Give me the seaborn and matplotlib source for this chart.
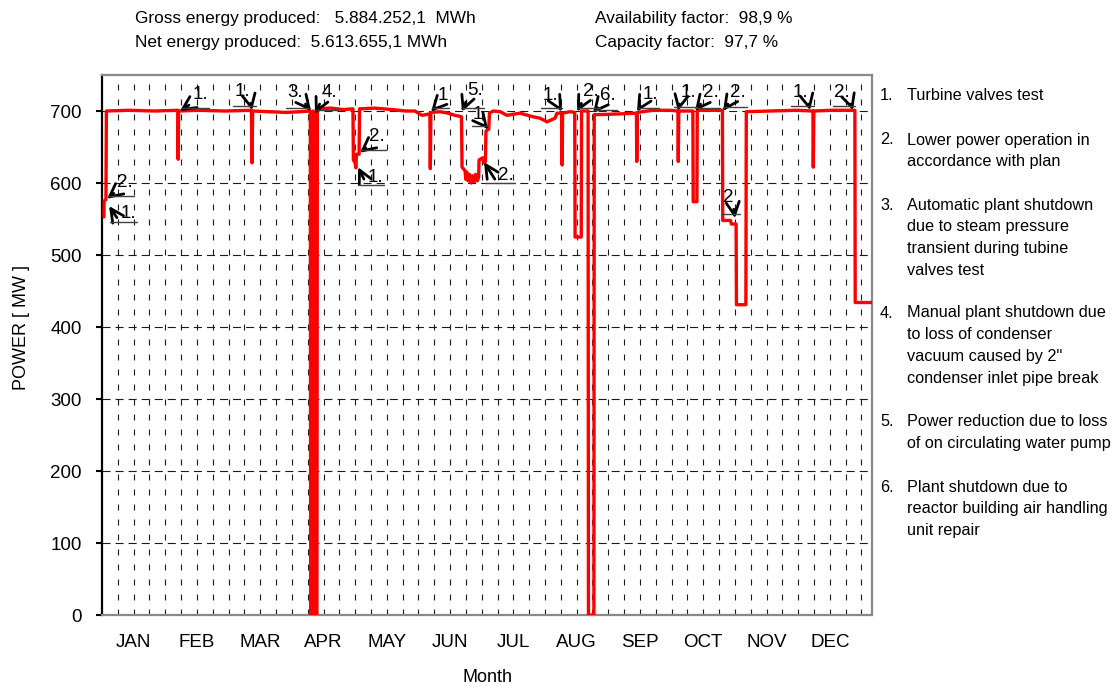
"""
Hourly electrical power of the plant over one year, with event callouts.
"""

import matplotlib
matplotlib.use("Agg")
import matplotlib.pyplot as plt
from matplotlib.lines import Line2D
import numpy as np
import pandas as pd
import seaborn as sns

# ---- data (hour of year, MW) ----
HOURS = [
    22, 24, 45, 50, 300, 600, 862,
    866, 872,
    1100, 1400, 1700,
    1707, 1714,
    1900, 2100, 2250, 2370,
    2374, 2398, 2402, 2418, 2424, 2445, 2450,
    2600, 2750, 2855,
    2860, 2880, 2888, 2895, 2925, 2930,
    3100, 3300, 3450, 3560, 3640, 3730,
    3735, 3742, 3845, 3936, 4016, 4090,
    4096, 4130, 4140, 4150, 4165, 4180, 4200, 4215, 4235, 4250, 4270, 4285,
    4290, 4330, 4345, 4362, 4368, 4400, 4408, 4450,
    4530, 4607, 4755, 4903, 4983, 5063, 5154, 5176, 5230,
    5235, 5240, 5324, 5378,
    5382, 5452, 5456, 5530,
    5534, 5596, 5600,
    5666, 5893, 6080, 6084, 6090, 6268, 6461, 6552, 6556, 6562, 6722,
    6726, 6768, 6772, 7058, 7062, 7150, 7160, 7214, 7218, 7325, 7330,
    7600, 7900, 8088, 8092, 8098, 8300, 8565, 8569, 8760,
]
POWER_MW = [
    553, 575, 577, 700, 701, 700, 701,
    633, 700,
    701, 700, 701,
    628, 700,
    699, 698, 699, 700,
    0, 0, 700, 698, 0, 0, 703,
    704, 702, 703,
    632, 628, 621, 640, 640, 703,
    704, 702, 700, 700, 694, 696,
    620, 698, 699, 697, 694, 692,
    622, 617, 605, 615, 603, 612, 600, 610, 602, 612, 603, 608,
    632, 635, 628, 630, 672, 675, 697, 700,
    699, 694, 697, 692, 690, 685, 690, 697, 697,
    625, 697, 699, 698,
    525, 525, 700, 700,
    0, 0, 695,
    695, 696, 697, 630, 698, 701, 701, 700, 630, 700, 700,
    574, 574, 701, 701, 548, 548, 543, 543, 431, 431, 699,
    700, 701, 700, 622, 700, 701, 701, 434, 434,
]

MONTHS = ["JAN", "FEB", "MAR", "APR", "MAY", "JUN",
          "JUL", "AUG", "SEP", "OCT", "NOV", "DEC"]
Y_TICKS = [0, 100, 200, 300, 400, 500, 600, 700]

# callouts: label, arrow tip (hour, MW), label position (hour, MW)
ANN_LABELS = ["2.", "1.", "1.", "1.", "3.", "4.", "2.", "1.", "1", "5.", "1",
              "2.", "1.", "2.", "6.", "1.", "1.", "2.", "2.", "2", "1.", "2."]
ANN_TIP_H = [57, 80, 887, 1707, 2378, 2423, 2935, 2913, 3743, 4096, 4392,
             4346, 5233, 5404, 5586, 6087, 6553, 6747, 7065, 7202, 8055, 8544]
ANN_TIP_MW = [578, 568, 700, 701, 700, 696, 642, 622, 699, 699, 675,
              629, 699, 699, 697, 699, 700, 700, 700, 551, 701, 701]
ANN_TEXT_H = [262, 296, 1115, 1593, 2196, 2583, 3129, 3106, 3880, 4244, 4278,
              4596, 5097, 5563, 5757, 6235, 6667, 6929, 7236, 7122, 7941, 8419]
ANN_TEXT_MW = [601, 557, 723, 727, 726, 726, 664, 608, 721, 729, 695,
               610, 721, 727, 721, 723, 726, 726, 726, 580, 726, 726]

NOTE_NUMBERS = ["1.", "2.", "3.", "4.", "5.", "6."]
NOTE_LINES = [
    ["Turbine valves test"],
    ["Lower power operation in", "accordance with plan"],
    ["Automatic plant shutdown", "due to steam pressure",
     "transient during tubine", "valves test"],
    ["Manual plant shutdown due", "to loss of condenser",
     "vacuum caused by 2\"", "condenser inlet pipe break"],
    ["Power reduction due to loss", "of on circulating water pump"],
    ["Plant shutdown due to", "reactor building air handling", "unit repair"],
]
NOTE_TOP_PX = [95, 140, 205, 313, 422, 487]

STATS = [
    ("Gross energy produced:   5.884.252,1  MWh", 135, 18),
    ("Net energy produced:  5.613.655,1 MWh", 135, 42),
    ("Availability factor:  98,9 %", 595, 18),
    ("Capacity factor:  97,7 %", 595, 42),
]

W, H = 1118, 687

sns.set_style("white")
plt.rcParams["font.family"] = ["Liberation Sans", "DejaVu Sans"]
plt.rcParams["lines.scale_dashes"] = False
plt.rcParams["text.color"] = "black"
plt.rcParams["axes.labelcolor"] = "black"
plt.rcParams["xtick.color"] = "black"
plt.rcParams["ytick.color"] = "black"

df = pd.DataFrame({"hour": HOURS, "power": POWER_MW})

fig = plt.figure(figsize=(W / 100, H / 100), dpi=100)
ax = fig.add_axes([102 / W, 1 - 615 / H, 770 / W, 540 / H])

# grid first so the trace sits on top
for x in np.arange(180, 8760, 180):
    ax.axvline(x, color="0.1", lw=0.8, dashes=(4.3, 6.5), zorder=1)
for y in Y_TICKS[1:]:
    ax.axhline(y, color="0.1", lw=0.8, dashes=(5.8, 3.6), zorder=1)

sns.lineplot(data=df, x="hour", y="power", color="#ff0000", linewidth=2.4,
             estimator=None, sort=False, ax=ax, zorder=3)

ax.set_xlim(0, 8760)
ax.set_ylim(0, 750)
ax.set_xticks([360 + 720 * i for i in range(12)])
ax.set_xticklabels(MONTHS)
ax.set_yticks(Y_TICKS)
ax.tick_params(axis="x", length=0, pad=14, labelsize=13.5)
ax.tick_params(axis="y", left=True, length=4.5, width=1.5, color="black",
               direction="out", pad=10, labelsize=13.5)

for side in ["top", "right", "bottom"]:
    ax.spines[side].set_color("#8a8a8a")
    ax.spines[side].set_linewidth(1.6)
ax.spines["left"].set_color("black")
ax.spines["left"].set_linewidth(1.6)

ax.set_xlabel("Month", fontsize=13)
ax.set_ylabel("POWER [ MW ]", fontsize=13)
ax.xaxis.set_label_coords(0.5, -0.1)
ax.yaxis.set_label_coords(-0.093, 0.533)

# callouts
texts = []
for lab, th, tm, xh, xm in zip(ANN_LABELS, ANN_TIP_H, ANN_TIP_MW,
                               ANN_TEXT_H, ANN_TEXT_MW):
    rel = (0, 0) if th < xh else (1, 0)
    t = ax.annotate(lab, xy=(th, tm), xytext=(xh, xm), textcoords="data",
                    ha="center", va="center", fontsize=13.5, zorder=5,
                    annotation_clip=False,
                    arrowprops=dict(arrowstyle="->,head_length=0.7,head_width=0.35",
                                    color="black", lw=2.0, relpos=rel,
                                    shrinkA=0, shrinkB=0))
    texts.append(t)

# underline each callout label
fig.canvas.draw()
renderer = fig.canvas.get_renderer()
for t in texts:
    bb = t.get_window_extent(renderer)
    fig.add_artist(Line2D([bb.x0 - 1, bb.x1 + 1], [bb.y0 + 1, bb.y0 + 1],
                          transform=None, color="0.25", lw=1.0))

# header figures
for s, px, py in STATS:
    fig.text(px / W, 1 - py / H, s, fontsize=12.4, va="center", ha="left")

# notes on the right
for num, lines, top in zip(NOTE_NUMBERS, NOTE_LINES, NOTE_TOP_PX):
    fig.text(880 / W, 1 - top / H, num, fontsize=11.7, va="center")
    for i, line in enumerate(lines):
        fig.text(907 / W, 1 - (top + 21.7 * i) / H, line, fontsize=11.7,
                 va="center")

fig.savefig("out.png", dpi=100)
